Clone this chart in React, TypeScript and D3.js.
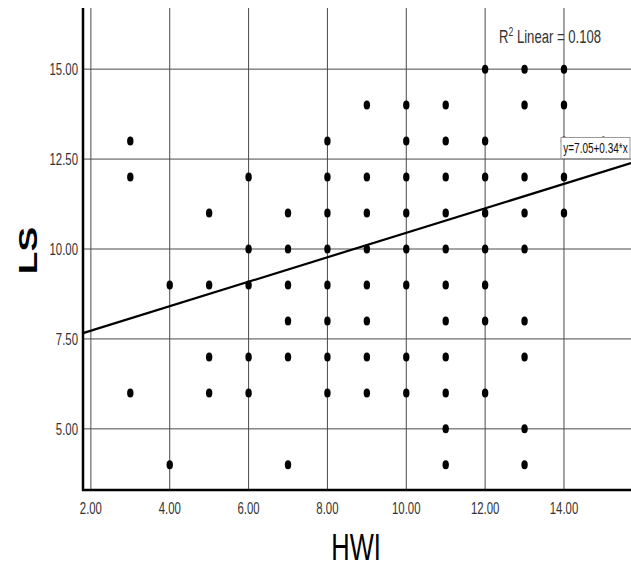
import React from "react";
import * as d3 from "d3";

const W = 631;
const H = 573;
const SQ = 0.69; // horizontal squeeze of the original picture

// Data: HWI (x) and LS (y) pairs, grouped by LS value
const lsRows: number[] = [15, 14, 13, 12, 11, 10, 9, 8, 7, 6, 5, 4];
const hwiByRow: number[][] = [
  [12, 13, 14],
  [9, 10, 11, 13, 14],
  [3, 8, 10, 11, 12, 14, 15],
  [3, 6, 8, 9, 10, 11, 12, 13, 14],
  [5, 7, 8, 9, 10, 11, 12, 13, 14],
  [6, 7, 8, 9, 10, 11, 12, 13],
  [4, 5, 6, 7, 8, 9, 10, 11, 12],
  [7, 8, 9, 11, 12, 13],
  [5, 6, 7, 8, 9, 10, 11, 13],
  [3, 5, 6, 8, 9, 10, 11, 12],
  [11, 13],
  [4, 7, 11, 13],
];
const xTicks: number[] = [2, 4, 6, 8, 10, 12, 14];
const yTicks: number[] = [5, 7.5, 10, 12.5, 15];
const intercept = 7.05;
const slope = 0.34;
const rSquared = "0.108";
const xTitle = "HWI";
const yTitle = "LS";

const FONT = "'Liberation Sans', Arial, sans-serif";

export default function App() {
  const x = d3.scaleLinear().domain([1.8, 15.7]).range([83, 631]);
  const y = d3.scaleLinear().domain([3.3, 16.7]).range([490, 8]);
  const [x0, x1] = x.domain();
  const [y0, y1] = y.domain();

  const points: { hx: number; ly: number }[] = [];
  lsRows.forEach((ly, i) => hwiByRow[i].forEach((hx) => points.push({ hx, ly })));

  const line = d3
    .line<number>()
    .x((d) => x(d))
    .y((d) => y(intercept + slope * d));

  const fmt = d3.format(".2f");
  const boxX = x(14) - 3;
  const boxY = y(13.1);

  return (
    <svg
      width={W}
      height={H}
      style={{ position: "absolute", left: 0, top: 0, background: "#fff" }}
      fontFamily={FONT}
    >
      <rect x={0} y={0} width={W} height={H} fill="#fff" />
      {/* grid */}
      {xTicks.map((t) => (
        <line key={"gx" + t} x1={x(t)} x2={x(t)} y1={y(y1)} y2={y(y0)} stroke="#4a4a4a" strokeWidth={1} />
      ))}
      {yTicks.map((t) => (
        <line key={"gy" + t} x1={x(x0)} x2={x(x1)} y1={y(t)} y2={y(t)} stroke="#4a4a4a" strokeWidth={1} />
      ))}
      {/* points */}
      {points.map((p, i) => (
        <ellipse key={i} cx={x(p.hx)} cy={y(p.ly)} rx={3.2} ry={4.5} fill="#000" />
      ))}
      {/* regression line */}
      <path d={line([x0, x1]) || ""} fill="none" stroke="#000" strokeWidth={2.2} />
      {/* axes */}
      <line x1={x(x0)} x2={x(x0)} y1={y(y1)} y2={y(y0) + 1} stroke="#000" strokeWidth={2.5} />
      <line x1={x(x0) - 1} x2={x(x1)} y1={y(y0)} y2={y(y0)} stroke="#000" strokeWidth={2.5} />
      {/* tick labels */}
      {xTicks.map((t) => (
        <text
          key={"tx" + t}
          transform={`translate(${x(t)},${y(y0) + 23.5}) scale(${SQ},1)`}
          textAnchor="middle"
          fontSize={16.5}
          fill="#333"
        >
          {fmt(t)}
        </text>
      ))}
      {yTicks.map((t) => (
        <text
          key={"ty" + t}
          transform={`translate(${x(x0) - 5},${y(t) + 6}) scale(${SQ},1)`}
          textAnchor="end"
          fontSize={16.5}
          fill="#333"
        >
          {fmt(t)}
        </text>
      ))}
      {/* axis titles */}
      <text
        transform={`translate(356,560) scale(${SQ},1)`}
        textAnchor="middle"
        fontSize={37}
        fill="#000"
      >
        {xTitle}
      </text>
      <text
        transform={`translate(37,250.5) scale(${SQ},1) rotate(-90)`}
        textAnchor="middle"
        fontSize={37}
        fontWeight="bold"
        fill="#000"
      >
        {yTitle}
      </text>
      {/* R squared */}
      <text transform={`translate(499,43) scale(${SQ},1)`} fontSize={19} fill="#333">
        R
        <tspan fontSize={12.5} dy={-7}>2</tspan>
        <tspan dy={7}> Linear = {rSquared}</tspan>
      </text>
      {/* equation box */}
      <rect x={boxX} y={boxY} width={69} height={21} fill="#fff" stroke="#999" strokeWidth={1} />
      <text
        transform={`translate(${boxX + 34.5},${boxY + 15.5}) scale(${SQ},1)`}
        textAnchor="middle"
        fontSize={14.5}
        fill="#111"
      >
        {`y=${intercept}+${slope}*x`}
      </text>
    </svg>
  );
}
